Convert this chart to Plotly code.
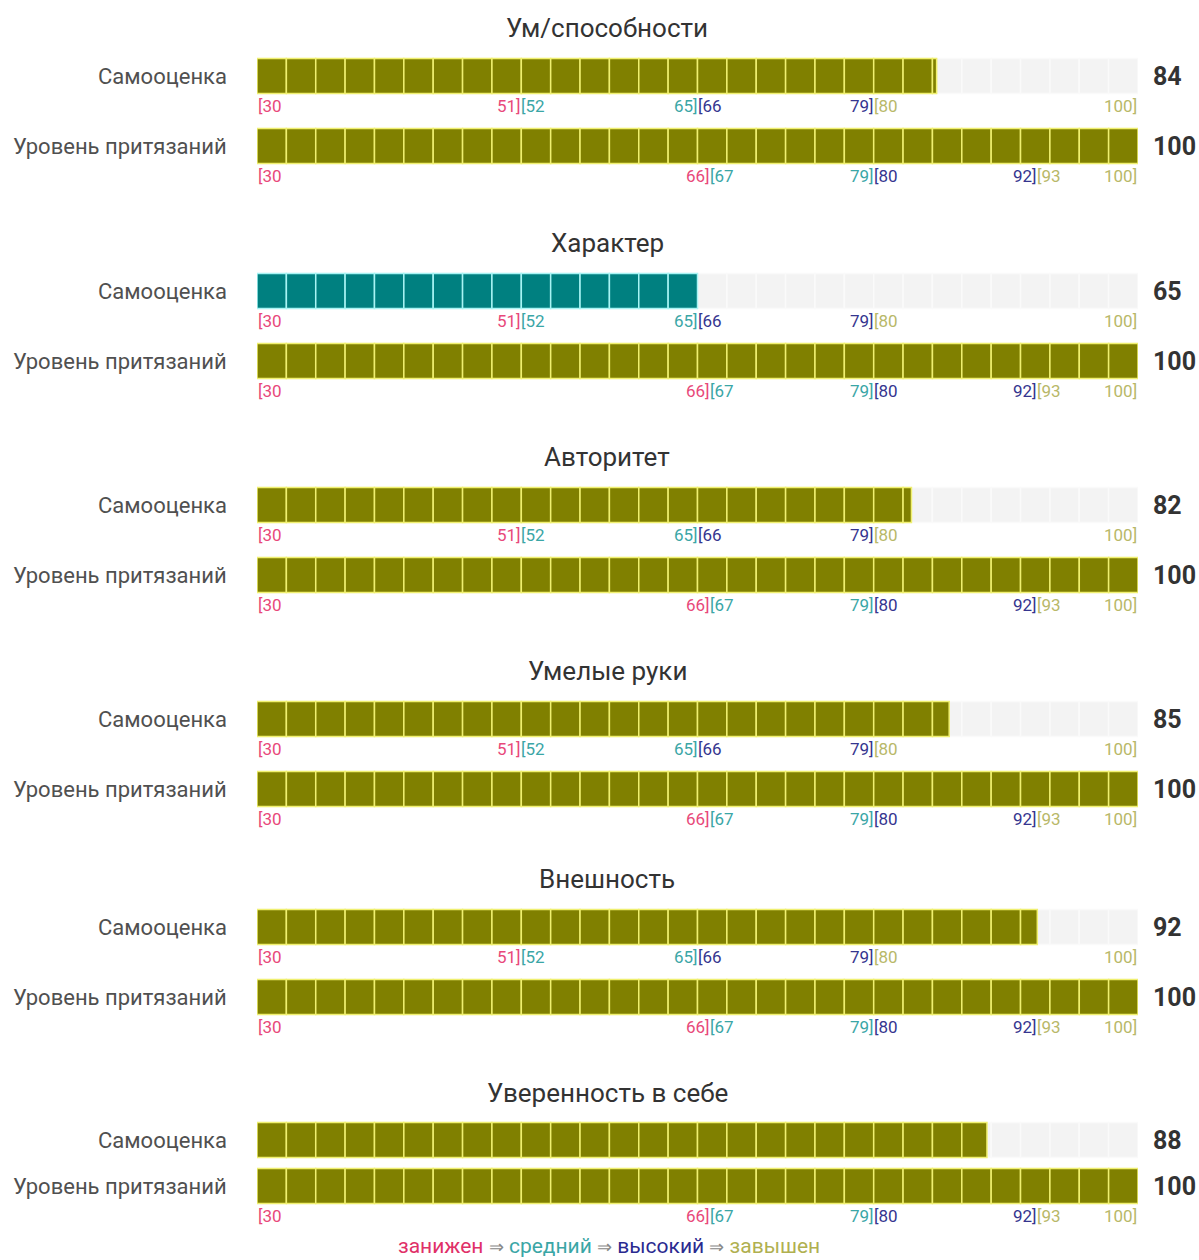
import plotly.graph_objects as go

# ---------------- data ----------------
categories = ["Ум/способности", "Характер", "Авторитет", "Умелые руки", "Внешность", "Уверенность в себе"]
row_labels = ["Самооценка", "Уровень притязаний"]
self_esteem = [84, 65, 82, 85, 92, 88]
aspiration = [100, 100, 100, 100, 100, 100]
scale_min, scale_max = 30, 100
n_segments = 30
# level boundaries (upper bound of each level: занижен, средний, высокий, завышен)
self_bounds = [51, 65, 79, 100]
asp_bounds = [66, 79, 92, 100]
level_names = ["занижен", "средний", "высокий", "завышен"]

# ---------------- styles / layout ----------------
W, H = 1199, 1260
X0, X1 = 257, 1138
fill_colors = ["#b0304a", "#008080", "#000080", "#808000"]
edge_colors = ["#f0a0b0", "#a8f4f4", "#a0a0f0", "#f0f070"]
label_colors = ["#e8487a", "#3aa6a6", "#35358f", "#b8b868"]
title_y = [28, 243, 457, 671, 879, 1093]
FONT = "Roboto, 'Open Sans', sans-serif"
BAR_H = 35


def level_of(v, bounds):
    for i, b in enumerate(bounds):
        if v <= b:
            return i
    return len(bounds) - 1


rows = []  # (group index, row index, value, bounds, bar_y, tick_y)
for g in range(len(categories)):
    ty = title_y[g]
    last = g == len(categories) - 1
    if not last:
        rows.append((g, 0, self_esteem[g], self_bounds, ty + 48, ty + 78))
        rows.append((g, 1, aspiration[g], asp_bounds, ty + 118, ty + 148))
    else:
        rows.append((g, 0, self_esteem[g], self_bounds, ty + 47, None))
        rows.append((g, 1, aspiration[g], asp_bounds, ty + 93, ty + 123))

seg_w = (scale_max - scale_min) / n_segments

fig = go.Figure()

# background segments
bg_base, bg_x, bg_y = [], [], []
for (_, _, v, _, by, _) in rows:
    for k in range(n_segments):
        bg_base.append(scale_min + k * seg_w)
        bg_x.append(seg_w)
        bg_y.append(by)
fig.add_trace(go.Bar(orientation="h", base=bg_base, x=bg_x, y=bg_y, width=BAR_H,
                     marker=dict(color="#f3f3f3", line=dict(color="#fafafa", width=1.5)),
                     hoverinfo="skip", showlegend=False))

# filled segments
for (_, _, v, bounds, by, _) in rows:
    lvl = level_of(v, bounds)
    fb, fx, fy = [], [], []
    k = 0
    while scale_min + k * seg_w < v - 1e-9:
        b = scale_min + k * seg_w
        fb.append(b)
        fx.append(min(seg_w, v - b))
        fy.append(by)
        k += 1
    fig.add_trace(go.Bar(orientation="h", base=fb, x=fx, y=fy, width=BAR_H,
                         marker=dict(color=fill_colors[lvl], line=dict(color=edge_colors[lvl], width=1.5)),
                         hoverinfo="skip", showlegend=False))

ann = []
for g, name in enumerate(categories):
    ann.append(dict(xref="paper", yref="y", x=607 / W, y=title_y[g], text=name, showarrow=False,
                    xanchor="center", yanchor="middle", font=dict(family=FONT, size=26, color="#333333")))

for (g, r, v, bounds, by, tk) in rows:
    ann.append(dict(xref="x", yref="y", x=scale_min, xshift=-28, y=by, text=row_labels[r], showarrow=False,
                    xanchor="right", yanchor="middle", font=dict(family=FONT, size=22, color="#505050")))
    ann.append(dict(xref="x", yref="y", x=scale_max, xshift=13, y=by, text="<b>%d</b>" % v, showarrow=False,
                    xanchor="left", yanchor="middle", font=dict(family=FONT, size=25, color="#333333")))
    if tk is None:
        continue
    tf = dict(family=FONT, size=17)
    ann.append(dict(xref="x", yref="y", x=scale_min, y=tk, text="[%d" % scale_min, showarrow=False,
                    xanchor="left", yanchor="middle", xshift=-1, font=dict(tf, color=label_colors[0])))
    for i, b in enumerate(bounds[:-1]):
        ann.append(dict(xref="x", yref="y", x=b, y=tk, text="%d]" % b, showarrow=False,
                        xanchor="right", yanchor="middle", xshift=2, font=dict(tf, color=label_colors[i])))
        ann.append(dict(xref="x", yref="y", x=b, y=tk, text="[%d" % (b + 1), showarrow=False,
                        xanchor="left", yanchor="middle", xshift=-2, font=dict(tf, color=label_colors[i + 1])))
    ann.append(dict(xref="x", yref="y", x=scale_max, y=tk, text="%d]" % scale_max, showarrow=False,
                    xanchor="right", yanchor="middle", xshift=1, font=dict(tf, color=label_colors[3])))

arrow = " <span style='color:#888888;font-size:18px'>⇒</span> "
legend_colors = ["#e03068", "#3aa6a6", "#2a2a90", "#b0b050"]
legend_text = arrow.join("<span style='color:%s'>%s</span>" % (legend_colors[i], n)
                         for i, n in enumerate(level_names))
ann.append(dict(xref="paper", yref="y", x=609 / W, y=1246, text=legend_text, showarrow=False,
                xanchor="center", yanchor="middle", borderpad=0, font=dict(family=FONT, size=21)))

fig.update_layout(
    width=W, height=H, margin=dict(l=0, r=0, t=0, b=0),
    paper_bgcolor="white", plot_bgcolor="white",
    barmode="overlay", bargap=0,
    xaxis=dict(range=[scale_min, scale_max], domain=[X0 / W, X1 / W], visible=False, fixedrange=True),
    yaxis=dict(range=[H, 0], domain=[0, 1], visible=False, fixedrange=True),
    annotations=ann, showlegend=False,
)

fig.write_html("out.html", config={"displayModeBar": False, "staticPlot": True},
               post_script="document.body.style.margin='0';document.body.style.overflow='hidden';")
